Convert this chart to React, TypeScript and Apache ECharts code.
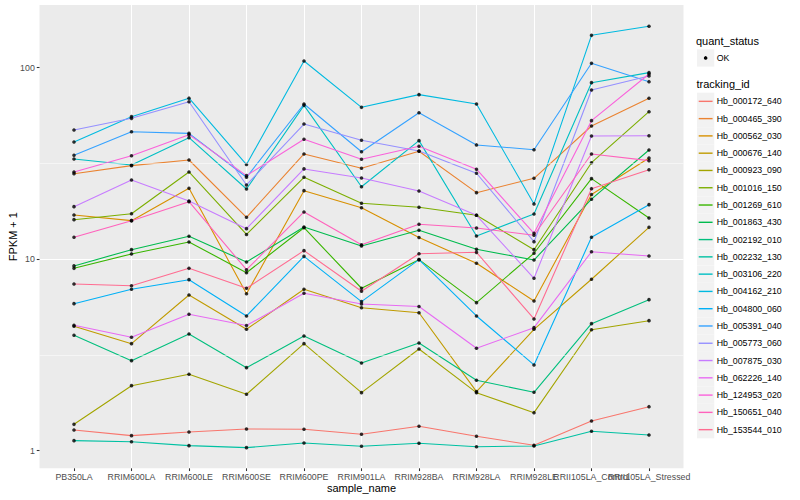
import React, { useEffect, useRef } from 'react';
import * as echarts from 'echarts';

const categories = ['PB350LA', 'RRIM600LA', 'RRIM600LE', 'RRIM600SE', 'RRIM600PE', 'RRIM901LA', 'RRIM928BA', 'RRIM928LA', 'RRIM928LE', 'RRII105LA_Control', 'RRII105LA_Stressed'];

const trackingIds = ['Hb_000172_640', 'Hb_000465_390', 'Hb_000562_030', 'Hb_000676_140', 'Hb_000923_090', 'Hb_001016_150', 'Hb_001269_610', 'Hb_001863_430', 'Hb_002192_010', 'Hb_002232_130', 'Hb_003106_220', 'Hb_004162_210', 'Hb_004800_060', 'Hb_005391_040', 'Hb_005773_060', 'Hb_007875_030', 'Hb_062226_140', 'Hb_124953_020', 'Hb_150651_040', 'Hb_153544_010'];

const trackingColors = ['#F8766D', '#EA8331', '#D89000', '#C09B00', '#A3A500', '#7CAE00', '#39B600', '#00BB4E', '#00BF7D', '#00C1A3', '#00BFC4', '#00BAE0', '#00B0F6', '#35A2FF', '#9590FF', '#C77CFF', '#E76BF3', '#FA62DB', '#FF62BC', '#FF6C91'];

// FPKM + 1 per sample (order of categories)
const hb000172_640 = [1.283, 1.198, 1.252, 1.298, 1.293, 1.218, 1.341, 1.189, 1.067, 1.429, 1.697];
const hb000465_390 = [27.96, 30.8, 32.96, 16.55, 35.43, 29.83, 36.6, 22.25, 26.45, 49.6, 69.2];
const hb000562_030 = [17.01, 15.89, 23.45, 6.6, 22.79, 18.57, 12.98, 9.52, 6.05, 21.77, 33.77];
const hb000676_140 = [4.462, 3.621, 6.503, 4.304, 6.963, 5.58, 5.25, 2.033, 4.304, 7.853, 14.67];
const hb000923_090 = [1.373, 2.185, 2.506, 1.97, 3.621, 2.009, 3.397, 2.009, 1.579, 4.283, 4.774];
const hb001016_150 = [16.08, 17.28, 28.54, 13.46, 26.77, 19.58, 18.66, 16.95, 11.21, 31.9, 58.9];
const hb001269_610 = [8.96, 10.65, 12.3, 8.5, 14.6, 7.05, 9.94, 5.93, 10.74, 26.33, 16.41];
const hb001863_430 = [9.22, 11.21, 13.17, 9.67, 14.73, 11.73, 14.16, 11.26, 9.9, 20.57, 37.17];
const hb002192_010 = [4.005, 2.951, 4.068, 2.713, 3.972, 2.871, 3.651, 2.331, 2.018, 4.605, 6.145];
const hb002232_130 = [1.128, 1.114, 1.062, 1.037, 1.097, 1.054, 1.093, 1.049, 1.058, 1.263, 1.208];
const hb003106_220 = [33.37, 31.04, 43.1, 23.25, 63.6, 23.9, 41.6, 13.22, 17.22, 83.5, 94.2];
const hb004162_210 = [40.9, 55.5, 69.3, 31.2, 108.4, 62.1, 72.3, 64.6, 19.43, 147.6, 164.5];
const hb004800_060 = [5.857, 6.963, 7.816, 5.051, 10.35, 6.0, 9.94, 5.051, 2.803, 13.01, 19.26];
const hb005391_040 = [34.87, 46.3, 45.4, 26.77, 64.6, 36.4, 58.2, 39.5, 37.3, 105.4, 84.5];
const hb005773_060 = [47.3, 54.4, 66.4, 24.4, 50.8, 41.8, 36.7, 28.1, 12.34, 76.5, 90.5];
const hb007875_030 = [18.8, 25.9, 20.13, 14.43, 29.6, 26.55, 22.71, 16.95, 7.95, 44.0, 44.1];
const hb062226_140 = [4.516, 3.91, 5.157, 4.506, 6.636, 5.836, 5.662, 3.425, 4.388, 10.94, 10.39];
const hb124953_020 = [28.54, 34.7, 44.7, 27.3, 42.3, 33.25, 38.9, 29.5, 13.65, 52.9, 92.7];
const hb150651_040 = [13.01, 15.89, 19.96, 8.81, 17.64, 11.89, 15.21, 14.55, 13.33, 35.43, 32.7];
const hb153544_010 = [7.42, 7.27, 8.96, 7.05, 11.08, 6.8, 10.68, 10.86, 4.872, 23.34, 29.3];

const seriesValues = [hb000172_640, hb000465_390, hb000562_030, hb000676_140, hb000923_090, hb001016_150, hb001269_610, hb001863_430, hb002192_010, hb002232_130, hb003106_220, hb004162_210, hb004800_060, hb005391_040, hb005773_060, hb007875_030, hb062226_140, hb124953_020, hb150651_040, hb153544_010];

const yTicks = [1, 10, 100];
const yMinorBreaks = [3.1623, 31.623];
const X_MIN = -0.6;
const X_MAX = categories.length - 1 + 0.6;
const xTicks = categories.map((_, i) => i);
const xLabelValues = [X_MIN, ...xTicks, X_MAX];
const quantStatus = ['OK'];

const FONT = '"Liberation Sans", Arial, Helvetica, sans-serif';

export default function App() {
  const ref = useRef<HTMLDivElement>(null);
  useEffect(() => {
    if (!ref.current) return;
    const chart = echarts.init(ref.current, undefined, { renderer: 'svg' });

    const lineSeries = seriesValues.map((vals, k) => ({
      type: 'line',
      name: trackingIds[k],
      data: vals.map((v, i) => [i, v]),
      showSymbol: false,
      symbol: 'none',
      lineStyle: { color: trackingColors[k], width: 1.1 },
      itemStyle: { color: trackingColors[k] },
      emphasis: { disabled: true },
      silent: true,
      z: 3,
    }));

    const pointData: number[][] = [];
    seriesValues.forEach((vals) => vals.forEach((v, i) => pointData.push([i, v])));

    const keyTop = 92.7;
    const keySize = 17.28;
    const keyX = 697;
    const legendEls: any[] = [
      { type: 'text', style: { text: 'quant_status', x: 696, y: 40.7, fontSize: 11, fontFamily: FONT, fill: '#000', verticalAlign: 'middle', align: 'left' } },
      { type: 'rect', shape: { x: keyX, y: 49.3, width: keySize, height: keySize }, style: { fill: '#F2F2F2' } },
      { type: 'circle', shape: { cx: keyX + keySize / 2, cy: 49.3 + keySize / 2, r: 1.8 }, style: { fill: '#000' } },
      { type: 'text', style: { text: quantStatus[0], x: 716.7, y: 49.3 + keySize / 2, fontSize: 8.8, fontFamily: FONT, fill: '#000', verticalAlign: 'middle', align: 'left' } },
      { type: 'text', style: { text: 'tracking_id', x: 696.5, y: 84.3, fontSize: 11, fontFamily: FONT, fill: '#000', verticalAlign: 'middle', align: 'left' } },
    ];
    trackingIds.forEach((id, i) => {
      const top = keyTop + i * keySize;
      const cy = top + keySize / 2;
      legendEls.push({ type: 'rect', shape: { x: keyX, y: top, width: keySize, height: keySize }, style: { fill: '#F2F2F2' } });
      legendEls.push({ type: 'line', shape: { x1: keyX + 1.7, y1: cy, x2: keyX + keySize - 1.7, y2: cy }, style: { stroke: trackingColors[i], lineWidth: 1.4 } });
      legendEls.push({ type: 'text', style: { text: id, x: 716.7, y: cy, fontSize: 8.8, fontFamily: FONT, fill: '#000', verticalAlign: 'middle', align: 'left' } });
    });

    chart.setOption({
      animation: false,
      backgroundColor: '#FFFFFF',
      textStyle: { fontFamily: FONT },
      grid: {
        left: 39.5,
        right: 116.5,
        top: 5,
        bottom: 31.7,
        show: true,
        backgroundColor: '#EBEBEB',
        borderWidth: 0,
        containLabel: false,
        outerBoundsMode: 'none',
      },
      xAxis: {
        type: 'value',
        min: X_MIN,
        max: X_MAX,
        minInterval: 1,
        maxInterval: 1,
        splitNumber: 11,
        name: 'sample_name',
        nameLocation: 'middle',
        nameGap: 14,
        nameMoveOverlap: false,
        nameTextStyle: { fontSize: 11, color: '#000', fontFamily: FONT, verticalAlign: 'top' },
        axisLine: { show: false, onZero: false },
        axisTick: { show: true, length: 2.75, customValues: xTicks, lineStyle: { color: '#333333', width: 1.07 } },
        axisLabel: {
          show: true,
          customValues: xLabelValues,
          margin: 4.5,
          fontSize: 8.8,
          color: '#4D4D4D',
          fontFamily: FONT,
          hideOverlap: false,
          showMinLabel: false,
          showMaxLabel: false,
          formatter: (v: number) => (Number.isInteger(v) && categories[v] !== undefined ? categories[v] : ' '),
        },
        splitLine: { show: true, showMinLine: false, showMaxLine: false, lineStyle: { color: '#FFFFFF', width: 1.07 } },
      },
      yAxis: {
        type: 'log',
        logBase: 10,
        min: 0.809,
        max: 212.5,
        name: 'FPKM + 1',
        nameLocation: 'middle',
        nameGap: 21,
        nameMoveOverlap: false,
        nameTextStyle: { fontSize: 11, color: '#000', fontFamily: FONT },
        axisLine: { show: false, onZero: false },
        axisTick: { show: true, length: 2.75, customValues: yTicks, lineStyle: { color: '#333333', width: 1.07 } },
        axisLabel: {
          show: true,
          customValues: yTicks,
          margin: 4.7,
          fontSize: 8.8,
          color: '#4D4D4D',
          fontFamily: FONT,
          showMinLabel: true,
          showMaxLabel: true,
          formatter: (v: number) => {
            const t = yTicks.find((y) => Math.abs(y - v) / y < 1e-6);
            return t !== undefined ? String(t) : '';
          },
        },
        splitLine: { show: true, showMinLine: false, showMaxLine: false, lineStyle: { color: '#FFFFFF', width: 1.07 } },
      },
      series: [
        {
          type: 'line',
          data: [],
          silent: true,
          z: 1,
          markLine: {
            silent: true,
            symbol: ['none', 'none'],
            label: { show: false },
            lineStyle: { color: '#FFFFFF', width: 0.53, type: 'solid' },
            emphasis: { disabled: true },
            data: yMinorBreaks.map((v) => ({ yAxis: v })),
          },
        },
        ...lineSeries,
        {
          type: 'scatter',
          name: 'OK',
          data: pointData,
          symbol: 'circle',
          symbolSize: 3.6,
          itemStyle: { color: '#000000' },
          silent: true,
          z: 4,
        },
      ],
      graphic: { elements: legendEls },
    });
    return () => chart.dispose();
  }, []);
  return <div ref={ref} style={{ position: 'fixed', left: 0, top: 0, width: 800, height: 500 }} />;
}
